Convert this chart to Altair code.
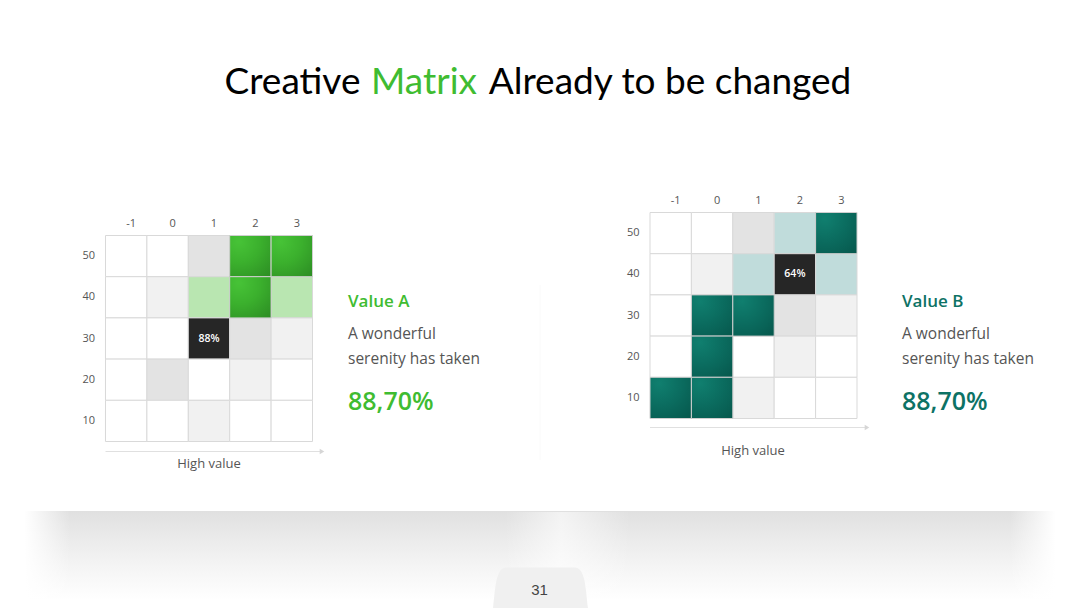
import altair as alt
import pandas as pd

# ---------------- data ----------------
cols = ["-1", "0", "1", "2", "3"]
rows = ["50", "40", "30", "20", "10"]

# cell categories: w = white, v = very light grey, g = light grey,
# L = light accent, S = strong accent, K = highlighted (dark) cell
matrix_a = [
    ["w", "w", "g", "S", "S"],
    ["w", "v", "L", "S", "L"],
    ["w", "w", "K", "g", "v"],
    ["w", "g", "w", "v", "w"],
    ["w", "w", "v", "w", "w"],
]
matrix_b = [
    ["w", "w", "g", "L", "S"],
    ["w", "v", "L", "K", "L"],
    ["w", "S", "S", "g", "v"],
    ["w", "S", "w", "v", "w"],
    ["S", "S", "v", "w", "w"],
]
highlight_a = {"col": "1", "row": "30", "label": "88%"}
highlight_b = {"col": "2", "row": "40", "label": "64%"}

title_parts = ["Creative", "Matrix", "Already to be changed"]
value_titles = ["Value A", "Value B"]
body_lines = ["A wonderful", "serenity has taken"]
big_values = ["88,70%", "88,70%"]
axis_title = "High value"
page_number = "31"

# ---------------- styling ----------------
GREEN = "#3fbc31"
TEAL = "#0d7265"
FONT = "Open Sans"
one = pd.DataFrame({"d": [0]})


def cells_df(matrix):
    recs = []
    for r, line in zip(rows, matrix):
        for c, cat in zip(cols, line):
            recs.append({"col": c, "row": r, "cat": cat})
    return pd.DataFrame(recs)


def radial(c0, c_mid, c1):
    return {
        "gradient": "radial",
        "x1": 0.22, "y1": 0.15, "r1": 0,
        "x2": 0.22, "y2": 0.15, "r2": 1.15,
        "stops": [{"offset": 0, "color": c0},
                  {"offset": 0.45, "color": c_mid},
                  {"offset": 1, "color": c1}],
    }


def matrix_layers(matrix, hl, xr, yr, light, strong_fill, col_label_y,
                  row_label_x, arrow_y, arrow_end, axis_title_x, axis_title_y):
    df = cells_df(matrix)
    xs = alt.Scale(domain=cols, range=xr, paddingInner=0, paddingOuter=0)
    ys = alt.Scale(domain=rows, range=yr, paddingInner=0, paddingOuter=0)
    X = alt.X("col:O", scale=xs, axis=None)
    Y = alt.Y("row:O", scale=ys, axis=None)

    flat = alt.Chart(df).transform_filter(alt.datum.cat != "S").mark_rect(
        stroke="#d9d9d9", strokeWidth=1
    ).encode(
        x=X, y=Y,
        fill=alt.Fill("cat:N", legend=None, scale=alt.Scale(
            domain=["w", "v", "g", "L", "K"],
            range=["#ffffff", "#f1f1f1", "#e3e3e3", light, "#262626"])),
    )
    strong = alt.Chart(df).transform_filter(alt.datum.cat == "S").mark_rect(
        fill=strong_fill, stroke="#cfcfcf", strokeWidth=1
    ).encode(x=X, y=Y)
    hl_text = alt.Chart(pd.DataFrame([hl])).mark_text(
        font=FONT, fontSize=10.5, fontWeight=600, color="white", baseline="middle"
    ).encode(x=X, y=Y, text="label:N")
    col_labels = alt.Chart(pd.DataFrame({"col": cols})).mark_text(
        font=FONT, fontSize=11, color="#555555", dx=5, baseline="alphabetic"
    ).encode(x=X, y=alt.value(col_label_y), text="col:N")
    row_labels = alt.Chart(pd.DataFrame({"row": rows})).mark_text(
        font=FONT, fontSize=11, color="#555555", align="right", baseline="middle"
    ).encode(x=alt.value(row_label_x), y=Y, text="row:N")
    arrow = alt.Chart(one).mark_rule(color="#e0e0e0", strokeWidth=1).encode(
        x=alt.value(xr[0]), x2=alt.value(arrow_end), y=alt.value(arrow_y))
    head = alt.Chart(one).mark_point(
        shape="triangle-right", filled=True, size=28, color="#d6d6d6", opacity=1
    ).encode(x=alt.value(arrow_end), y=alt.value(arrow_y))
    atitle = alt.Chart(one).mark_text(
        font=FONT, fontSize=13, color="#555555", baseline="alphabetic"
    ).encode(x=alt.value(axis_title_x), y=alt.value(axis_title_y),
             text=alt.value(axis_title))
    return [flat, strong, hl_text, col_labels, row_labels, arrow, head, atitle]


def text_block(x, color, title, value):
    t1 = alt.Chart(one).mark_text(
        font=FONT, fontSize=17, fontWeight=600, color=color, align="left",
        baseline="alphabetic").encode(x=alt.value(x), y=alt.value(306.5),
                                      text=alt.value(title))
    t2 = alt.Chart(one).mark_text(
        font=FONT, fontSize=15.5, color="#555555", align="left",
        baseline="alphabetic").encode(x=alt.value(x), y=alt.value(339),
                                      text=alt.value(body_lines[0]))
    t3 = alt.Chart(one).mark_text(
        font=FONT, fontSize=15.5, color="#555555", align="left",
        baseline="alphabetic").encode(x=alt.value(x), y=alt.value(363.5),
                                      text=alt.value(body_lines[1]))
    t4 = alt.Chart(one).mark_text(
        font=FONT, fontSize=25, fontWeight=600, color=color, align="left",
        baseline="alphabetic").encode(x=alt.value(x), y=alt.value(409.5),
                                      text=alt.value(value))
    return [t1, t2, t3, t4]


# ---------------- decoration: footer shadow and page tab ----------------
def lin(stops, horizontal=False):
    g = {"gradient": "linear", "x1": 0, "y1": 0,
         "x2": 1 if horizontal else 0, "y2": 0 if horizontal else 1,
         "stops": [{"offset": o, "color": c} for o, c in stops]}
    return g


def deco_rect(x, x2, y, y2, fill):
    return alt.Chart(one).mark_rect(fill=fill).encode(
        x=alt.value(x), x2=alt.value(x2), y=alt.value(y), y2=alt.value(y2))


shadow_v = lin([(0, "#e0e0e0"), (0.35, "#ececec"), (0.75, "#f8f8f8"), (1, "#ffffff")])
W0 = "rgba(255,255,255,0)"
W1 = "rgba(255,255,255,1)"
deco = [
    deco_rect(0, 1080, 511, 600, shadow_v),
    deco_rect(0, 70, 505, 608, lin([(0, W1), (0.35, W1), (1, W0)], True)),
    deco_rect(1010, 1080, 505, 608, lin([(0, W0), (0.65, W1), (1, W1)], True)),
    deco_rect(505, 630, 512, 608,
              lin([(0, W0), (0.45, "rgba(255,255,255,0.6)"), (1, W0)], True)),
]
tab_path = ("M -1 0.43 C -0.95 0.0 -0.94 -0.43 -0.72 -0.43 "
            "L 0.72 -0.43 C 0.94 -0.43 0.95 0.0 1 0.43 Z")
tab = alt.Chart(one).mark_point(
    shape=tab_path, filled=True, size=9025, color="#f0f0f0", opacity=1, strokeWidth=0
).encode(x=alt.value(540.5), y=alt.value(588))
page = alt.Chart(one).mark_text(
    font="Liberation Sans Narrow, Liberation Sans", fontSize=15, color="#444444",
    baseline="alphabetic").encode(x=alt.value(539.5), y=alt.value(595),
                                  text=alt.value(page_number))
divider = alt.Chart(one).mark_rule(color="#fafafa", strokeWidth=1).encode(
    x=alt.value(540), y=alt.value(285), y2=alt.value(460))

# ---------------- title ----------------
title_centers = [292.5, 424, 670]
title_colors = ["#000000", GREEN, "#000000"]
title_layers = [
    alt.Chart(one).mark_text(font="Lato", fontSize=37, color=c, baseline="alphabetic")
    .encode(x=alt.value(cx), y=alt.value(94), text=alt.value(t))
    for t, cx, c in zip(title_parts, title_centers, title_colors)
]

layers = (
    deco + [tab, page, divider] + title_layers
    + matrix_layers(matrix_a, highlight_a, [105.5, 312.5], [235.5, 441.5],
                    "#b9e6b1", radial("#47c337", "#3bb02d", "#2c8c23"), 226.5, 95,
                    451.5, 322, 209, 467.5)
    + matrix_layers(matrix_b, highlight_b, [650, 857], [212.5, 418.5],
                    "#c0dcdb", radial("#107f6f", "#0b6d60", "#06574c"), 204, 639.5,
                    427.5, 867, 753, 455)
    + text_block(348, GREEN, value_titles[0], big_values[0])
    + text_block(902, TEAL, value_titles[1], big_values[1])
)

chart = alt.layer(*layers).resolve_scale(
    x="independent", y="independent", fill="independent"
).properties(
    width=1080, height=608, padding=0, autosize=alt.AutoSizeParams(type="none"),
    background="white",
).configure_view(stroke=None)

chart.save("out.html", embed_options={"renderer": "svg", "actions": False})
